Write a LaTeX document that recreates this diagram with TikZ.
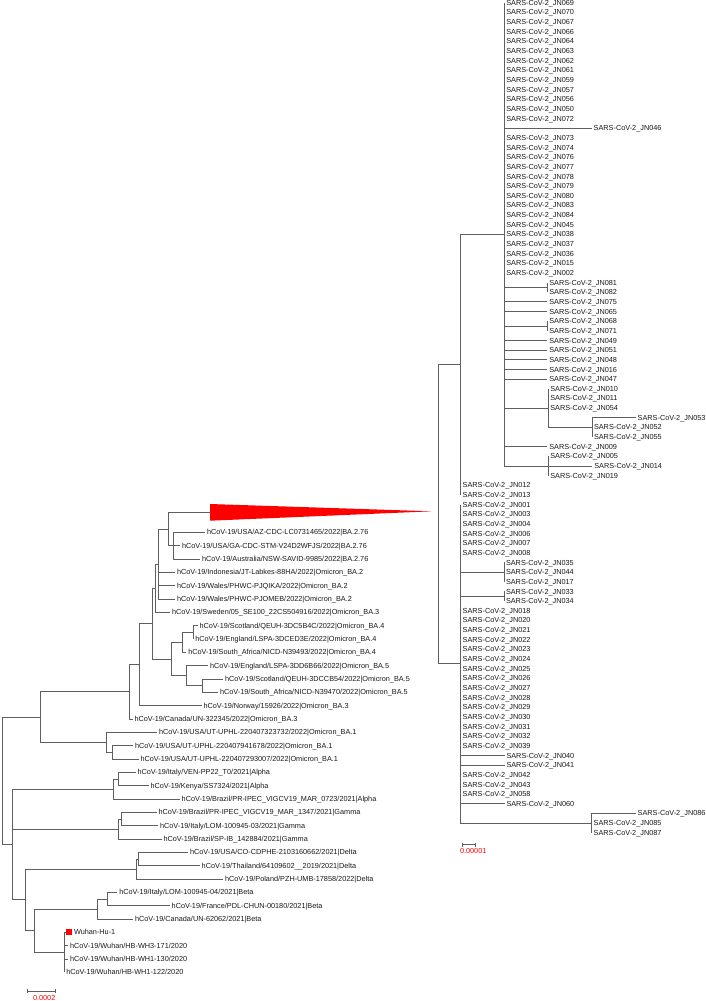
\documentclass[tikz,border=0pt]{standalone}
\usepackage{fontspec}
\setmainfont{Liberation Sans}
\definecolor{ln}{RGB}{95,95,95}
\definecolor{tx}{RGB}{25,25,25}
\definecolor{rd}{RGB}{255,0,0}
\tikzset{
  br/.style={draw=ln, line width=0.9pt},
  lb/.style={anchor=west, inner xsep=2pt, inner ysep=0pt, outer sep=0pt, text height=5.2pt, text depth=0pt, font=\fontsize{7.3}{8}\selectfont, text=tx},
  sbl/.style={lb, text=rd},
}
\begin{document}
\begin{tikzpicture}[x=1pt,y=-1pt]
\fill[white] (0,0) rectangle (706,1001);
\useasboundingbox (0,0) rectangle (706,1001);

% ================= RIGHT TREE =================
\begin{scope}[y=-9.651pt, yshift=-2.7pt]
\coordinate (RR) at (438.3,53);
\coordinate (RA) at (460.7,37.5);
\coordinate (RB) at (460.7,68.5);
\coordinate (UP) at (504.3,24);
\draw[br] (RR) |- (RA);
\draw[br] (RR) |- (RB);
\draw[br] (RA) |- (UP);
\foreach \r/\n in {50/012,51/013}{
  \node[lb] (r\n) at (460.7,\r) {SARS-CoV-2\_JN\n};
  \draw[br] (RA) |- (r\n.west);
}
% upper clade leaves (zero length)
\foreach \r/\n in {0/069,1/070,2/067,3/066,4/064,5/063,6/062,7/061,8/059,9/057,10/056,11/050,12/072,14/073,15/074,16/076,17/077,18/078,19/079,20/080,21/083,22/084,23/045,24/038,25/037,26/036,27/015,28/002}{
  \node[lb] (r\n) at (504.3,\r) {SARS-CoV-2\_JN\n};
  \draw[br] (UP) |- (r\n.west);
}
\node[lb] (r046) at (591.7,13) {SARS-CoV-2\_JN046};
\draw[br] (UP) |- (r046.west);
\foreach \r/\n in {31/075,32/065,35/049,36/051,37/048,38/016,39/047,46/009}{
  \node[lb] (r\n) at (547.3,\r) {SARS-CoV-2\_JN\n};
  \draw[br] (UP) |- (r\n.west);
}
\coordinate (P1) at (547.3,29.5);
\coordinate (P2) at (547.3,33.5);
\draw[br] (UP) |- (P1);
\draw[br] (UP) |- (P2);
\foreach \r/\n in {29/081,30/082}{
  \node[lb] (r\n) at (547.3,\r) {SARS-CoV-2\_JN\n};
  \draw[br] (P1) |- (r\n.west);
}
\foreach \r/\n in {33/068,34/071}{
  \node[lb] (r\n) at (547.3,\r) {SARS-CoV-2\_JN\n};
  \draw[br] (P2) |- (r\n.west);
}
\coordinate (S1) at (548.3,42);
\coordinate (S1b) at (592,44);
\draw[br] (UP) |- (S1);
\draw[br] (S1) |- (S1b);
\foreach \r/\n in {40/010,41/011,42/054}{
  \node[lb] (r\n) at (548.3,\r) {SARS-CoV-2\_JN\n};
  \draw[br] (S1) |- (r\n.west);
}
\node[lb] (r053) at (635.7,43) {SARS-CoV-2\_JN053};
\draw[br] (S1b) |- (r053.west);
\foreach \r/\n in {44/052,45/055}{
  \node[lb] (r\n) at (592,\r) {SARS-CoV-2\_JN\n};
  \draw[br] (S1b) |- (r\n.west);
}
\coordinate (S2) at (548.3,48);
\draw[br] (UP) |- (S2);
\foreach \r/\n in {47/005,49/019}{
  \node[lb] (r\n) at (548.3,\r) {SARS-CoV-2\_JN\n};
  \draw[br] (S2) |- (r\n.west);
}
\node[lb] (r014) at (592.3,48) {SARS-CoV-2\_JN014};
\draw[br] (S2) |- (r014.west);
% lower clade
\foreach \r/\n in {52/001,53/003,54/004,55/006,56/007,57/008,63/018,64/020,65/021,66/022,67/023,68/024,69/025,70/026,71/027,72/028,73/029,74/030,75/031,76/032,77/039,80/042,81/043,82/058}{
  \node[lb] (r\n) at (460.7,\r) {SARS-CoV-2\_JN\n};
  \draw[br] (RB) |- (r\n.west);
}
\foreach \r/\n in {78/040,79/041,83/060}{
  \node[lb] (r\n) at (504.5,\r) {SARS-CoV-2\_JN\n};
  \draw[br] (RB) |- (r\n.west);
}
\coordinate (L1) at (504,59);
\coordinate (L2) at (504,61.5);
\coordinate (L3) at (591.7,85);
\draw[br] (RB) |- (L1);
\draw[br] (RB) |- (L2);
\draw[br] (RB) |- (L3);
\foreach \r/\n in {58/035,59/044,60/017}{
  \node[lb] (r\n) at (504,\r) {SARS-CoV-2\_JN\n};
  \draw[br] (L1) |- (r\n.west);
}
\foreach \r/\n in {61/033,62/034}{
  \node[lb] (r\n) at (504,\r) {SARS-CoV-2\_JN\n};
  \draw[br] (L2) |- (r\n.west);
}
\node[lb] (r086) at (635.7,84) {SARS-CoV-2\_JN086};
\draw[br] (L3) |- (r086.west);
\foreach \r/\n in {85/085,86/087}{
  \node[lb] (r\n) at (591.7,\r) {SARS-CoV-2\_JN\n};
  \draw[br] (L3) |- (r\n.west);
}
\end{scope}

% right scale bar
\coordinate (sr1) at (462.3,844.7);
\coordinate (sr2) at (475.7,844.7);
\draw[br] (sr1) -- (sr2);
\draw[br] ([yshift=2.2pt]sr1) -- ([yshift=-2.2pt]sr1);
\draw[br] ([yshift=2.2pt]sr2) -- ([yshift=-2.2pt]sr2);
\node[sbl, inner xsep=0pt] (srl) at (460,851.2) {0.00001};

% ================= LEFT TREE =================
\coordinate (tri) at (210,512.3);
\fill[rd] (210,504) -- (431.7,511.3) -- (210,520.7) -- cycle;

\begin{scope}[y=-13.333pt, yshift=-518.967pt]
\coordinate (BA276) at (173.3,2);
\coordinate (X) at (168.3,0.75);
\coordinate (Y) at (158.3,3.375);
\coordinate (W) at (155.5,5.1875);
\coordinate (BA4a) at (193.3,8.5);
\coordinate (BA4) at (182.3,9.25);
\coordinate (BA5b) at (202.3,12.5);
\coordinate (BA5) at (186,11.75);
\coordinate (U) at (171.7,10.5);
\coordinate (V) at (152.3,7.84375);
\coordinate (T) at (139,10.921875);
\coordinate (R) at (129.3,12.9609375);
\coordinate (Q1b) at (112.7,17.5);
\coordinate (Q) at (106.7,16.75);
\coordinate (O) at (40,14.85547);
\coordinate (Aa) at (118.3,19.5);
\coordinate (Al) at (113.3,20.25);
\coordinate (Ga) at (121.7,22.5);
\coordinate (Gm) at (118.3,23.25);
\coordinate (Da) at (138,25.5);
\coordinate (D) at (136.7,26.25);
\coordinate (Ba) at (107.3,28.5);
\coordinate (Be) at (97.7,29.25);
\coordinate (Wu) at (64.3,32.5);
\coordinate (BW) at (34,30.875);
\coordinate (DBW) at (25,28.5625);
\coordinate (N12) at (12.3,24.40625);
\coordinate (Root) at (2.7,19.63086);

% leaves
\node[lb] (l1) at (205,1) {hCoV-19/USA/AZ-CDC-LC0731465/2022|BA.2.76};
\node[lb] (l2) at (180,2) {hCoV-19/USA/GA-CDC-STM-V24D2WFJS/2022|BA.2.76};
\node[lb] (l3) at (200,3) {hCoV-19/Australia/NSW-SAVID-9985/2022|BA.2.76};
\node[lb] (l4) at (175,4) {hCoV-19/Indonesia/JT-Labkes-88HA/2022|Omicron\_BA.2};
\node[lb] (l5) at (175,5) {hCoV-19/Wales/PHWC-PJQIKA/2022|Omicron\_BA.2};
\node[lb] (l6) at (175,6) {hCoV-19/Wales/PHWC-PJOMEB/2022|Omicron\_BA.2};
\node[lb] (l7) at (170,7) {hCoV-19/Sweden/05\_SE100\_22CS504916/2022|Omicron\_BA.3};
\node[lb] (l8) at (197.5,8) {hCoV-19/Scotland/QEUH-3DC5B4C/2022|Omicron\_BA.4};
\node[lb] (l9) at (193.3,9) {hCoV-19/England/LSPA-3DCED3E/2022|Omicron\_BA.4};
\node[lb] (l10) at (186.3,10) {hCoV-19/South\_Africa/NICD-N39493/2022|Omicron\_BA.4};
\node[lb] (l11) at (208,11) {hCoV-19/England/LSPA-3DD6B66/2022|Omicron\_BA.5};
\node[lb] (l12) at (223,12) {hCoV-19/Scotland/QEUH-3DCCB54/2022|Omicron\_BA.5};
\node[lb] (l13) at (218,13) {hCoV-19/South\_Africa/NICD-N39470/2022|Omicron\_BA.5};
\node[lb] (l14) at (201.5,14) {hCoV-19/Norway/15926/2022|Omicron\_BA.3};
\node[lb] (l15) at (132.5,15) {hCoV-19/Canada/UN-322345/2022|Omicron\_BA.3};
\node[lb] (l16) at (157,16) {hCoV-19/USA/UT-UPHL-220407323732/2022|Omicron\_BA.1};
\node[lb] (l17) at (133,17) {hCoV-19/USA/UT-UPHL-220407941678/2022|Omicron\_BA.1};
\node[lb] (l18) at (138.5,18) {hCoV-19/USA/UT-UPHL-220407293007/2022|Omicron\_BA.1};
\node[lb] (l19) at (135.5,19) {hCoV-19/Italy/VEN-PP22\_T0/2021|Alpha};
\node[lb] (l20) at (148.5,20) {hCoV-19/Kenya/SS7324/2021|Alpha};
\node[lb] (l21) at (179.7,21) {hCoV-19/Brazil/PR-IPEC\_VIGCV19\_MAR\_0723/2021|Alpha};
\node[lb] (l22) at (156.5,22) {hCoV-19/Brazil/PR-IPEC\_VIGCV19\_MAR\_1347/2021|Gamma};
\node[lb] (l23) at (158,23) {hCoV-19/Italy/LOM-100945-03/2021|Gamma};
\node[lb] (l24) at (161.5,24) {hCoV-19/Brazil/SP-IB\_142884/2021|Gamma};
\node[lb] (l25) at (188,25) {hCoV-19/USA/CO-CDPHE-2103160662/2021|Delta};
\node[lb] (l26) at (199.7,26) {hCoV-19/Thailand/64109602\_\_2019/2021|Delta};
\node[lb] (l27) at (223,27) {hCoV-19/Poland/PZH-UMB-17858/2022|Delta};
\node[lb] (l28) at (117.3,28) {hCoV-19/Italy/LOM-100945-04/2021|Beta};
\node[lb] (l29) at (169.7,29) {hCoV-19/France/PDL-CHUN-00180/2021|Beta};
\node[lb] (l30) at (133,30) {hCoV-19/Canada/UN-62062/2021|Beta};
\node[fill=rd, minimum size=5.7pt, inner sep=0pt, outer sep=0pt] (sq) at (69,31) {};
\node[lb] (l31) at (72,31) {Wuhan-Hu-1};
\node[lb] (l32) at (68,32) {hCoV-19/Wuhan/HB-WH3-171/2020};
\node[lb] (l33) at (68,33) {hCoV-19/Wuhan/HB-WH1-130/2020};
\node[lb] (l34) at (64.3,34) {hCoV-19/Wuhan/HB-WH1-122/2020};

% branches
\draw[br] (X) |- (tri);
\draw[br] (X) |- (BA276);
\foreach \l in {l1,l2,l3}{\draw[br] (BA276) |- (\l.west);}
\draw[br] (Y) |- (X);
\foreach \l in {l4,l5,l6}{\draw[br] (Y) |- (\l.west);}
\draw[br] (W) |- (Y);
\draw[br] (W) |- (l7.west);
\draw[br] (V) |- (W);
\draw[br] (V) |- (U);
\draw[br] (U) |- (BA4);
\draw[br] (U) |- (BA5);
\draw[br] (BA4) |- (BA4a);
\draw[br] (BA4) |- (l10.west);
\draw[br] (BA4a) |- (l8.west);
\draw[br] (BA4a) |- (l9.west);
\draw[br] (BA5) |- (l11.west);
\draw[br] (BA5) |- (BA5b);
\draw[br] (BA5b) |- (l12.west);
\draw[br] (BA5b) |- (l13.west);
\draw[br] (T) |- (V);
\draw[br] (T) |- (l14.west);
\draw[br] (R) |- (T);
\draw[br] (R) |- (l15.west);
\draw[br] (O) |- (R);
\draw[br] (O) |- (Q);
\draw[br] (Q) |- (l16.west);
\draw[br] (Q) |- (Q1b);
\draw[br] (Q1b) |- (l17.west);
\draw[br] (Q1b) |- (l18.west);
\draw[br] (Root) |- (O);
\draw[br] (Root) |- (N12);
\draw[br] (N12) |- (Al);
\draw[br] (N12) |- (Gm);
\draw[br] (N12) |- (DBW);
\draw[br] (Al) |- (Aa);
\draw[br] (Al) |- (l21.west);
\draw[br] (Aa) |- (l19.west);
\draw[br] (Aa) |- (l20.west);
\draw[br] (Gm) |- (Ga);
\draw[br] (Gm) |- (l24.west);
\draw[br] (Ga) |- (l22.west);
\draw[br] (Ga) |- (l23.west);
\draw[br] (DBW) |- (D);
\draw[br] (DBW) |- (BW);
\draw[br] (D) |- (Da);
\draw[br] (D) |- (l27.west);
\draw[br] (Da) |- (l25.west);
\draw[br] (Da) |- (l26.west);
\draw[br] (BW) |- (Be);
\draw[br] (BW) |- (Wu);
\draw[br] (Be) |- (Ba);
\draw[br] (Be) |- (l30.west);
\draw[br] (Ba) |- (l28.west);
\draw[br] (Ba) |- (l29.west);
\draw[br] (Wu) |- (sq.west);
\draw[br] (Wu) |- (l32.west);
\draw[br] (Wu) |- (l33.west);
\draw[br] (Wu) |- (l34.west);
\end{scope}

% left scale bar
\coordinate (sl1) at (27.7,991);
\coordinate (sl2) at (55.7,991);
\draw[br] (sl1) -- (sl2);
\draw[br] ([yshift=2.2pt]sl1) -- ([yshift=-2.2pt]sl1);
\draw[br] ([yshift=2.2pt]sl2) -- ([yshift=-2.2pt]sl2);
\node[sbl, inner xsep=0pt] (sll) at (33,997.8) {0.0002};
\end{tikzpicture}
\end{document}
